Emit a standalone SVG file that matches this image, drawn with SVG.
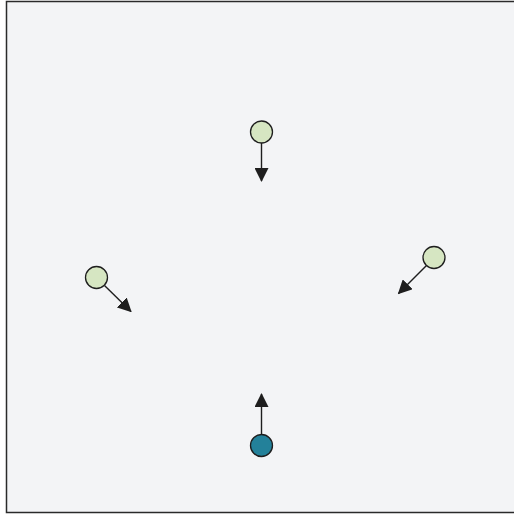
<svg xmlns="http://www.w3.org/2000/svg" width="514" height="516" viewBox="0 0 514 516">
<style>
.node{stroke:#1e1e1e;stroke-width:1.3}
.light{fill:#d6e6c2}
.dark{fill:#23819a}
.edge{stroke:#1e1e1e;stroke-width:1.4;fill:none}
</style>
<defs>
<marker id="ah" viewBox="0 0 14 14" refX="13" refY="7" markerWidth="14" markerHeight="14" markerUnits="userSpaceOnUse" orient="auto">
<path d="M0,0 L14,7 L0,14 Z" fill="#1e1e1e"/>
</marker>
</defs>
<rect x="6.5" y="1.5" width="510" height="511" fill="#f3f4f6" stroke="#2a2a2a" stroke-width="1.5"/>
<g id="connectors">
<line class="edge" x1="261.5" y1="143" x2="261.5" y2="181" marker-end="url(#ah)"/>
<line class="edge" x1="104.5" y1="285.5" x2="131" y2="311.5" marker-end="url(#ah)"/>
<line class="edge" x1="426.5" y1="265.5" x2="398.5" y2="293.5" marker-end="url(#ah)"/>
<line class="edge" x1="261.5" y1="434.5" x2="261.5" y2="394" marker-end="url(#ah)"/>
</g>
<g id="node-top"><circle class="node light" cx="261.5" cy="132" r="11"/></g>
<g id="node-left"><circle class="node light" cx="96.5" cy="277.5" r="11"/></g>
<g id="node-right"><circle class="node light" cx="434" cy="257.5" r="11"/></g>
<g id="node-bottom"><circle class="node dark" cx="261.5" cy="445.5" r="11"/></g>
</svg>
